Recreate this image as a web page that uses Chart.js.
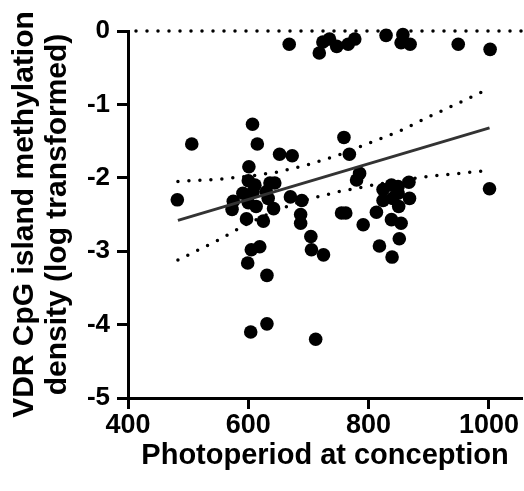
<!DOCTYPE html>
<html lang="en">
<head>
    <meta charset="UTF-8">
    <title>VDR CpG methylation vs photoperiod</title>
    <script src="https://cdn.jsdelivr.net/npm/chart.js"></script>
    <style>
        body { margin: 0; background: #fff; }
        #wrap { width: 524px; height: 491px; }
    </style>
</head>
<body>
    <div id="wrap"><canvas id="myChart" width="524" height="491"></canvas></div>
    <script>
        // points (photoperiod, log methylation density)
        const photoperiod = [
            668, 718, 724, 735, 747, 766, 777, 829, 857, 854, 869, 949, 1002,
            607, 506, 615, 759, 652, 673, 768, 601, 785, 780, 1001, 482,
            600, 611, 608, 591, 575, 573, 600, 613, 636, 644, 630, 633, 642, 597, 625,
            670, 689, 687, 687, 704, 705, 725, 605, 619, 599, 631, 604, 631, 712,
            755, 762, 813, 791, 824, 838, 849, 867, 824, 840, 849, 868, 850, 838, 854, 851, 818, 839
        ];
        const methylation = [
            -0.18, -0.30, -0.15, -0.11, -0.21, -0.18, -0.11, -0.06, -0.05, -0.16, -0.18, -0.18, -0.25,
            -1.27, -1.54, -1.54, -1.45, -1.68, -1.70, -1.68, -1.85, -1.94, -2.03, -2.15, -2.30,
            -2.04, -2.10, -2.19, -2.21, -2.32, -2.43, -2.34, -2.39, -2.07, -2.07, -2.19, -2.28, -2.42, -2.56, -2.59,
            -2.26, -2.31, -2.50, -2.62, -2.80, -2.98, -3.05, -2.98, -2.94, -3.16, -3.33, -4.10, -3.99, -4.20,
            -2.48, -2.48, -2.47, -2.64, -2.16, -2.10, -2.12, -2.06, -2.31, -2.28, -2.21, -2.28, -2.39, -2.57, -2.62, -2.83, -2.93, -3.08
        ];

        // regression line and its confidence band
        const fitX = [483, 1001];
        const fitY = [-2.58, -1.32];
        const bandX = [483, 550, 600, 650, 700, 750, 800, 850, 900, 950, 1001];
        const bandUpper = [-2.05, -2.02, -1.98, -1.92, -1.82, -1.69, -1.53, -1.37, -1.17, -0.98, -0.78];
        const bandLower = [-3.12, -2.85, -2.62, -2.43, -2.29, -2.19, -2.11, -2.04, -1.98, -1.94, -1.90];

        // dotted reference line at zero
        const zeroX = [400, 1055];
        const zeroY = [0, 0];

        const xTicks = [400, 600, 800, 1000];
        const yTicks = [-5, -4, -3, -2, -1, 0];

        function toPoints(xs, ys) {
            return xs.map((x, i) => ({ x: x, y: ys[i] }));
        }

        const dotted = {
            showLine: true,
            borderColor: '#000',
            borderWidth: 3.5,
            borderDash: [0, 11],
            borderCapStyle: 'round',
            pointRadius: 0,
            fill: false,
            clip: false
        };

        const fontFamily = '"Liberation Sans", Arial, sans-serif';

        new Chart(document.getElementById('myChart'), {
            type: 'scatter',
            data: {
                datasets: [
                    Object.assign({ data: toPoints(zeroX, zeroY), borderDashOffset: 3 }, dotted),
                    Object.assign({ data: toPoints(bandX, bandUpper) }, dotted),
                    Object.assign({ data: toPoints(bandX, bandLower) }, dotted),
                    {
                        data: toPoints(fitX, fitY),
                        showLine: true,
                        borderColor: '#333',
                        borderWidth: 3,
                        pointRadius: 0,
                        clip: false
                    },
                    {
                        data: toPoints(photoperiod, methylation),
                        backgroundColor: '#000',
                        borderColor: '#000',
                        borderWidth: 0,
                        pointRadius: 6.8,
                        clip: false
                    }
                ]
            },
            options: {
                responsive: false,
                animation: false,
                layout: { autoPadding: false, padding: { top: 31, right: 2, left: 0, bottom: 0 } },
                plugins: { legend: { display: false }, tooltip: { enabled: false } },
                scales: {
                    x: {
                        type: 'linear',
                        min: 400,
                        max: 1055,
                        afterBuildTicks: (scale) => { scale.ticks = xTicks.map(v => ({ value: v })); },
                        afterFit: (scale) => { scale.height = 93; },
                        border: { display: true, color: '#000', width: 3 },
                        grid: { drawOnChartArea: false, drawTicks: true, tickLength: 11, tickWidth: 3, tickColor: '#000' },
                        ticks: {
                            color: '#000', padding: 0,
                            callback: (v) => String(v),
                            font: { family: fontFamily, size: 27, weight: 'bold' }
                        },
                        title: {
                            display: true,
                            text: 'Photoperiod at conception',
                            color: '#000',
                            padding: { top: 0, bottom: 18 },
                            font: { family: fontFamily, size: 29, weight: 'bold', lineHeight: 1.2 }
                        }
                    },
                    y: {
                        type: 'linear',
                        min: -5,
                        max: 0,
                        afterBuildTicks: (scale) => { scale.ticks = yTicks.map(v => ({ value: v })); },
                        afterFit: (scale) => { scale.width = 128; },
                        border: { display: true, color: '#000', width: 3 },
                        grid: { drawOnChartArea: false, drawTicks: true, tickLength: 11, tickWidth: 3, tickColor: '#000' },
                        ticks: {
                            color: '#000', padding: 7,
                            callback: (v) => String(v),
                            font: { family: fontFamily, size: 26, weight: 'bold' }
                        },
                        title: {
                            display: true,
                            text: ['VDR CpG island methylation', 'density (log transformed)'],
                            color: '#000',
                            padding: { top: 8, bottom: 0 },
                            font: { family: fontFamily, size: 30, weight: 'bold', lineHeight: 1.1 }
                        }
                    }
                }
            }
        });
    </script>
</body>
</html>
